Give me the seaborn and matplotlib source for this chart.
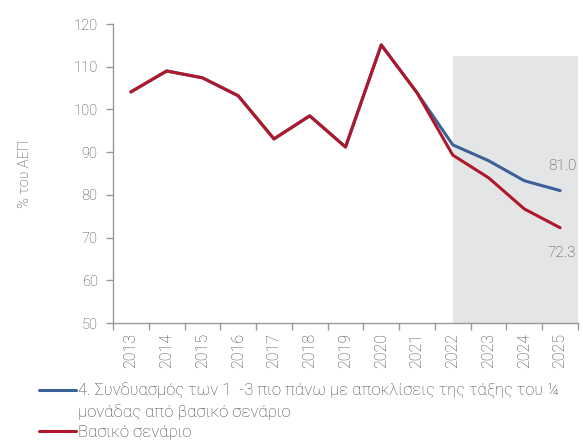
import matplotlib
matplotlib.use("Agg")
import matplotlib.pyplot as plt
import seaborn as sns
import pandas as pd
from matplotlib.ticker import MultipleLocator, FixedLocator
from matplotlib.lines import Line2D

years = [2013, 2014, 2015, 2016, 2017, 2018, 2019, 2020, 2021, 2022, 2023, 2024, 2025]
scenario4 = [104.1, 109.0, 107.4, 103.2, 93.1, 98.5, 91.2, 115.1, 103.9, 91.7, 88.0, 83.3, 81.0]
baseline = [104.1, 109.0, 107.4, 103.2, 93.1, 98.5, 91.2, 115.1, 103.9, 89.3, 84.0, 76.7, 72.3]
label4_lines = ["4. Συνδυασμός των 1  -3 πιο πάνω με αποκλίσεις της τάξης του ¼",
                "μονάδας από βασικό σενάριο"]
label4 = "\n".join(label4_lines)
label_base = "Βασικό σενάριο"
shade_from, shade_to, shade_top = 2022, 2025.5, 112.4

sns.set_theme(style="white")
plt.rcParams['font.family'] = ['Roboto', 'DejaVu Sans']
plt.rcParams['font.weight'] = 'light'
plt.rcParams['axes.labelweight'] = 'light'
gray = "#444444"
blue = "#3b6198"
red = "#b0182a"

df = pd.DataFrame({
    "year": years * 2,
    "value": scenario4 + baseline,
    "series": [label4] * len(years) + [label_base] * len(years),
})

fig = plt.figure(figsize=(5.83, 4.44), dpi=100)
ax = fig.add_axes([113/583, 121/444, 465/583, 299/444])

ax.fill_between([shade_from, shade_to], 50, shade_top, color="#e4e5e7", zorder=0, linewidth=0)

sns.lineplot(data=df, x="year", y="value", hue="series", ax=ax,
             palette={label4: blue, label_base: red}, linewidth=2.2,
             legend=False, zorder=3)

ax.set_xlim(2012.5, 2025.5)
ax.set_ylim(50, 120)
ax.yaxis.set_major_locator(MultipleLocator(10))
ax.set_xticks(years)
ax.set_xticklabels([str(y) for y in years], rotation=90)
ax.xaxis.set_minor_locator(FixedLocator([y - 0.5 for y in years] + [2025.5]))
ax.tick_params(axis="x", which="major", length=0, pad=7, labelsize=11.5, labelcolor=gray)
ax.tick_params(axis="x", which="minor", length=5, color="#999999", width=1, direction="out", bottom=True)
ax.tick_params(axis="y", length=5, color="#999999", width=1, direction="out", left=True,
               labelsize=10.5, labelcolor=gray, pad=6)

for s in ["top", "right"]:
    ax.spines[s].set_visible(False)
for s in ["left", "bottom"]:
    ax.spines[s].set_color("#999999")
    ax.spines[s].set_linewidth(1)

ax.set_xlabel("")
ax.set_ylabel("% του ΑΕΠ", fontsize=10.5, color=gray, labelpad=30, fontweight="light")

ax.text(2025.45, scenario4[-1] + 5.8, f"{scenario4[-1]:.1f}", ha="right", va="center", fontsize=11, color=gray)
ax.text(2025.45, baseline[-1] - 5.9, f"{baseline[-1]:.1f}", ha="right", va="center", fontsize=11, color=gray)

handles = [Line2D([], [], color=blue, lw=2.2),
           Line2D([], [], color="none", lw=0),
           Line2D([], [], color=red, lw=2.2)]
labels = [label4_lines[0], label4_lines[1], label_base]
fig.legend(handles, labels, loc="upper left", bbox_to_anchor=(39/583, 1 - 383/444),
           frameon=False, prop={"size": 12, "weight": "light"}, labelcolor=gray,
           handlelength=2.2, handletextpad=0.15, borderpad=0, labelspacing=0.3, borderaxespad=0)

fig.savefig("out.png", dpi=100)
